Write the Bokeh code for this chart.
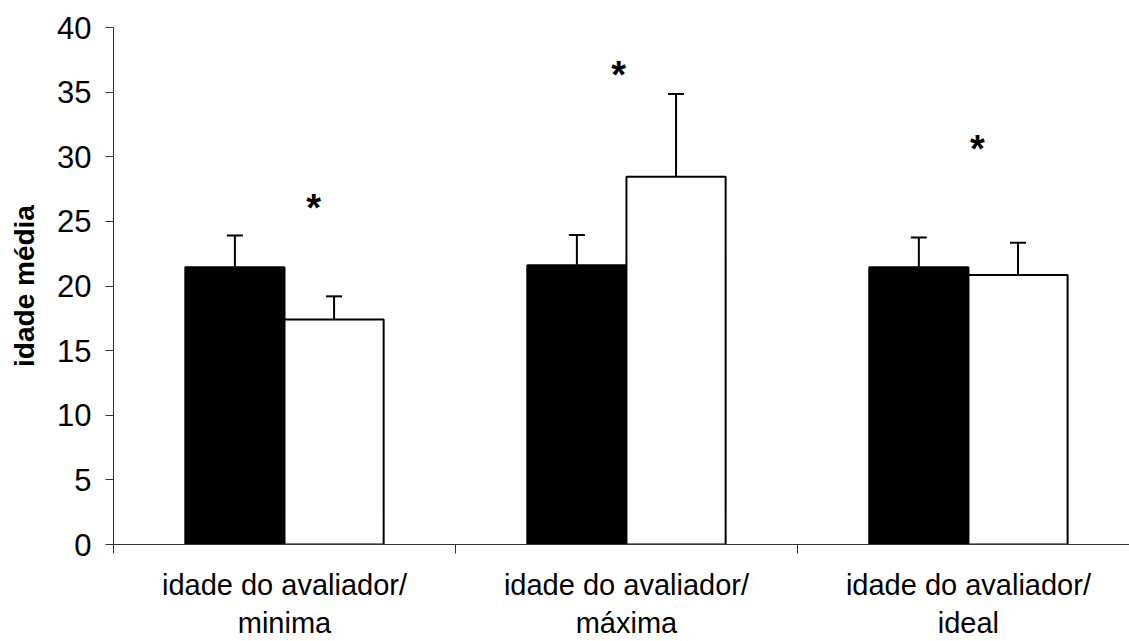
from bokeh.plotting import figure
from bokeh.models import ColumnDataSource, FixedTicker, Range1d
from bokeh.core.properties import value
from bokeh.embed import file_html
from bokeh.resources import INLINE

# ---- data ----
categories = ["idade do avaliador/\nminima", "idade do avaliador/\nmáxima", "idade do avaliador/\nideal"]
black_means = [21.45, 21.6, 21.45]
black_err = [2.45, 2.35, 2.3]
white_means = [17.4, 28.45, 20.85]
white_err = [1.8, 6.4, 2.5]
star_x = [0.585, 1.477, 2.526]
star_y = [26.4, 36.7, 30.95]
y_ticks = [0, 5, 10, 15, 20, 25, 30, 35, 40]

FONT = "Liberation Sans"
n = len(categories)
centers = [i + 0.5 for i in range(n)]
bw = 0.29
bx = [c - bw / 2 for c in centers]
wx = [c + bw / 2 for c in centers]

p = figure(width=1129, height=641, output_backend="svg", toolbar_location=None,
           x_range=Range1d(0, 2.971), y_range=Range1d(0, 40),
           min_border_left=113, min_border_top=27, min_border_right=0, min_border_bottom=10)
p.outline_line_color = None
p.xgrid.visible = False
p.ygrid.visible = False
p.background_fill_color = "white"
p.border_fill_color = "white"

src_b = ColumnDataSource(dict(x=bx, top=black_means,
                              up=[m + e for m, e in zip(black_means, black_err)]))
src_w = ColumnDataSource(dict(x=wx, top=white_means,
                              up=[m + e for m, e in zip(white_means, white_err)]))

p.vbar(x="x", top="top", bottom=0, width=bw, source=src_b,
       fill_color="black", line_color="black", line_width=2)
p.vbar(x="x", top="top", bottom=0, width=bw, source=src_w,
       fill_color="white", line_color="black", line_width=2)

for s in (src_b, src_w):
    p.segment(x0="x", y0="top", x1="x", y1="up", source=s, line_color="black", line_width=2)
    p.scatter(x="x", y="up", source=s, marker="dash", size=16, line_color="black", line_width=2)

p.text(x=star_x, y=star_y, text=["*"] * n, text_font=value(FONT), text_font_style="bold",
       text_font_size="38px", text_align="center", text_baseline="alphabetic",
       y_offset=5, text_color="black")

# y axis
ya = p.yaxis[0]
ya.ticker = FixedTicker(ticks=y_ticks)
ya.axis_label = "idade média"
ya.axis_label_text_font = FONT
ya.axis_label_text_font_style = "bold"
ya.axis_label_text_font_size = "28px"
ya.axis_label_text_color = "black"
ya.axis_label_standoff = 14
ya.major_label_text_font = FONT
ya.major_label_text_font_size = "31px"
ya.major_label_text_color = "black"
ya.major_label_standoff = 14
ya.major_tick_out = 8
ya.major_tick_in = 0
ya.minor_tick_out = 0
ya.minor_tick_in = 0
ya.axis_line_color = "#333333"
ya.major_tick_line_color = "#333333"

# x axis
xa = p.xaxis[0]
xa.ticker = FixedTicker(ticks=centers, minor_ticks=list(range(n + 1)))
xa.major_label_overrides = {c: lab for c, lab in zip(centers, categories)}
xa.major_label_text_font = FONT
xa.major_label_text_font_size = "29px"
xa.major_label_text_color = "black"
xa.major_label_standoff = 15
xa.major_tick_out = 0
xa.major_tick_in = 0
xa.minor_tick_out = 9
xa.minor_tick_in = 0
xa.axis_line_color = "#333333"
xa.minor_tick_line_color = "#333333"

open("out.html", "w").write(file_html(p, INLINE))
